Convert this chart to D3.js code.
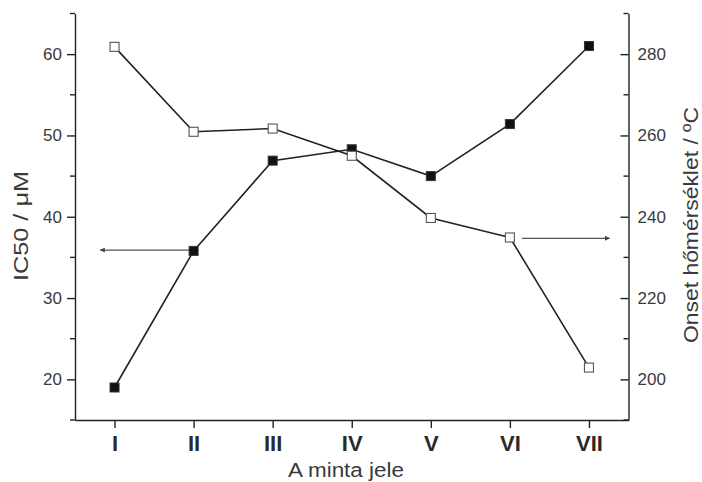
<!DOCTYPE html>
<html>
<head>
<meta charset="utf-8">
<script src="https://cdn.jsdelivr.net/npm/d3@7"></script>
<style>
  body { margin: 0; background: #fff; }
  svg { display: block; font-family: "Liberation Sans", Arial, sans-serif; }
</style>
</head>
<body>
<svg id="chart" width="702" height="482"></svg>
<script>
// sample labels (roman numerals) and their positions
var samples = ["I", "II", "III", "IV", "V", "VI", "VII"];
var sampleIdx = [1, 2, 3, 4, 5, 6, 7];
// IC50 values (left axis, filled squares)
var ic50 = [19.0, 35.8, 46.9, 48.3, 45.0, 51.4, 61.0];
// onset temperature (right axis, open squares)
var onset = [281.8, 260.9, 261.7, 255.0, 239.7, 234.9, 202.9];
var leftTicks = [20, 30, 40, 50, 60];
var leftMinor = [15, 25, 35, 45, 55, 65];
var rightTicks = [200, 220, 240, 260, 280];
var rightMinor = [190, 210, 230, 250, 270, 290];

var svg = d3.select("#chart");
var plotL = 75, plotR = 628.5, plotT = 13.5, plotB = 420;

var x = d3.scaleLinear().domain([0.5, 7.5]).range([plotL, plotR]);
var yL = d3.scaleLinear().domain([15, 65]).range([plotB, plotT]);
var yR = d3.scaleLinear().domain([190, 290]).range([plotB, plotT]);

var axisColor = "#222", labelColor = "#3a3a3a";

// left axis
var gl = svg.append("g").attr("transform", "translate(" + plotL + ",0)");
gl.call(d3.axisLeft(yL).tickValues(leftTicks).tickSize(8).tickPadding(5).tickSizeOuter(0));
gl.selectAll(".minor").data(leftMinor).enter().append("line")
  .attr("x1", -5).attr("x2", 0)
  .attr("y1", d => yL(d)).attr("y2", d => yL(d));

// right axis (ticks drawn to the inside)
var gr = svg.append("g").attr("transform", "translate(" + plotR + ",0)");
gr.call(d3.axisRight(yR).tickValues(rightTicks).tickSize(-8).tickPadding(9).tickSizeOuter(0));
gr.selectAll(".minor").data(rightMinor).enter().append("line")
  .attr("x1", -5).attr("x2", 0)
  .attr("y1", d => yR(d)).attr("y2", d => yR(d));

// bottom axis
var gb = svg.append("g").attr("transform", "translate(0," + plotB + ")");
gb.call(d3.axisBottom(x).tickValues(sampleIdx).tickFormat((d, i) => samples[i])
  .tickSize(8).tickPadding(7).tickSizeOuter(0));

svg.selectAll(".domain, .tick line, line").attr("stroke", axisColor).attr("stroke-width", 1.4);
gl.selectAll(".tick text").attr("font-size", 17).attr("fill", labelColor);
gr.selectAll(".tick text").attr("font-size", 17).attr("fill", labelColor);
gb.selectAll(".tick text").attr("font-size", 22).attr("font-weight", "bold").attr("fill", "#2a2a2a");
svg.selectAll(".tick text").attr("font-family", "Liberation Sans, Arial, sans-serif");

// axis titles
svg.append("text")
  .attr("transform", "translate(21,226) rotate(-90)")
  .attr("text-anchor", "middle").attr("dominant-baseline", "central")
  .attr("font-size", 20).attr("fill", labelColor)
  .attr("textLength", 110).attr("lengthAdjust", "spacingAndGlyphs")
  .text("IC50 / μM");
svg.append("text")
  .attr("transform", "translate(691,225) rotate(-90)")
  .attr("text-anchor", "middle").attr("dominant-baseline", "central")
  .attr("font-size", 20).attr("fill", labelColor)
  .attr("textLength", 236).attr("lengthAdjust", "spacingAndGlyphs")
  .text("Onset hőmérséklet / ºC");
svg.append("text")
  .attr("x", 346).attr("y", 477)
  .attr("text-anchor", "middle")
  .attr("font-size", 20).attr("fill", labelColor)
  .attr("textLength", 116).attr("lengthAdjust", "spacingAndGlyphs")
  .text("A minta jele");

// arrow head marker
svg.append("defs").append("marker")
  .attr("id", "arrow").attr("viewBox", "0 0 10 10")
  .attr("refX", 9).attr("refY", 5)
  .attr("markerWidth", 7).attr("markerHeight", 5)
  .attr("markerUnits", "userSpaceOnUse")
  .attr("orient", "auto")
  .append("path").attr("d", "M0,0 L10,5 L0,10 Z").attr("fill", "#444");

// arrows pointing at the axis each series belongs to
svg.append("line")
  .attr("x1", x(1.95)).attr("x2", x(0.82))
  .attr("y1", yL(35.9)).attr("y2", yL(35.9))
  .attr("stroke", "#555").attr("stroke-width", 1.2)
  .attr("marker-end", "url(#arrow)");
svg.append("line")
  .attr("x1", x(6.15)).attr("x2", x(7.26))
  .attr("y1", yR(234.7)).attr("y2", yR(234.7))
  .attr("stroke", "#555").attr("stroke-width", 1.2)
  .attr("marker-end", "url(#arrow)");

// IC50 series
var lineL = d3.line().x((d, i) => x(sampleIdx[i])).y(d => yL(d));
svg.append("path").datum(ic50).attr("d", lineL)
  .attr("fill", "none").attr("stroke", "#222").attr("stroke-width", 1.6);

// onset series
var lineR = d3.line().x((d, i) => x(sampleIdx[i])).y(d => yR(d));
svg.append("path").datum(onset).attr("d", lineR)
  .attr("fill", "none").attr("stroke", "#222").attr("stroke-width", 1.6);

var ms = 9;
svg.selectAll(".ptL").data(ic50).enter().append("rect")
  .attr("x", (d, i) => x(sampleIdx[i]) - ms / 2)
  .attr("y", d => yL(d) - ms / 2)
  .attr("width", ms).attr("height", ms)
  .attr("fill", "#111").attr("stroke", "#333").attr("stroke-width", 1);

svg.selectAll(".ptR").data(onset).enter().append("rect")
  .attr("x", (d, i) => x(sampleIdx[i]) - ms / 2)
  .attr("y", d => yR(d) - ms / 2)
  .attr("width", ms).attr("height", ms)
  .attr("fill", "#fff").attr("stroke", "#555").attr("stroke-width", 1.1);
</script>
</body>
</html>
